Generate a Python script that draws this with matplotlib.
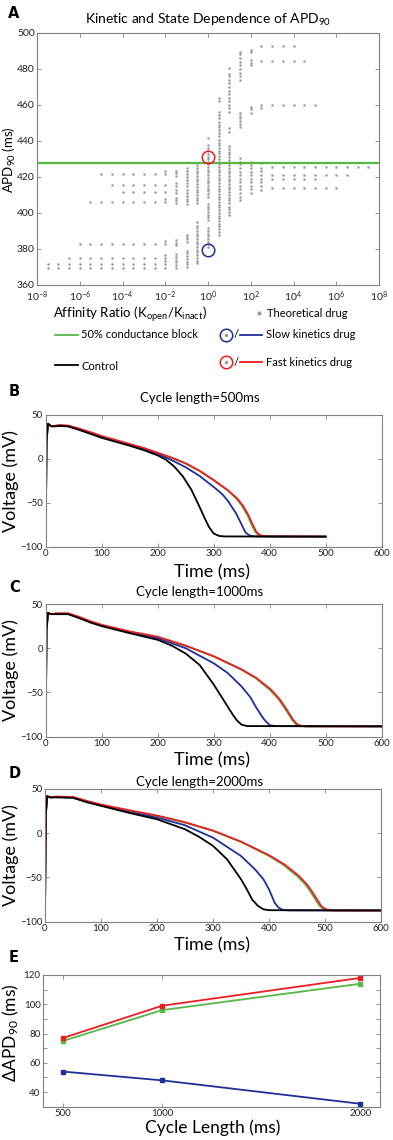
import numpy as np
import matplotlib
matplotlib.use("Agg")
import matplotlib.pyplot as plt
from matplotlib.lines import Line2D

plt.rcParams['font.family'] = ['Lato', 'DejaVu Sans']
plt.rcParams['mathtext.fontset'] = 'custom'
plt.rcParams['mathtext.rm'] = 'Lato'
plt.rcParams['mathtext.it'] = 'Lato:italic'
plt.rcParams['mathtext.default'] = 'regular'

GREEN = '#55b845'
BLUE = '#1f2f9a'
RED = '#ee1d23'
BLACK = '#000000'
GRAY = '#9a9a9a'
SPINE = '#808080'

# ---------------- Panel A data: columns of theoretical drugs ----------------
A_LOG_RATIO = [-7.5, -7, -6.5, -6, -5.5, -5, -4.5, -4, -3.5, -3, -2.5, -2, -1.5, -1, -0.5,
               0, 0.5, 1, 1.5, 2, 2.5, 3, 3.5, 4, 4.5, 5, 5.5, 6, 6.5, 7, 7.5]
A_APD = [
    [369.6, 371.7],
    [369.6, 371.7],
    [369.6, 371.7, 374.8],
    [369.6, 371.7, 374.8, 382.6],
    [369.6, 371.7, 374.8, 382.6, 406.3],
    [369.6, 371.7, 374.8, 382.6, 406.3, 421.7],
    [369.6, 371.7, 374.8, 382.6, 406.3, 415.6, 421.7],
    [369.6, 371.7, 374.8, 382.6, 406.3, 411.5, 415.6, 421.7],
    [369.6, 371.7, 374.8, 382.6, 406.3, 411.5, 415.6, 421.7],
    [369.6, 371.7, 374.8, 382.6, 406.3, 411.5, 415.6, 421.7],
    [369.6, 371.7, 374.8, 382.6, 406.3, 411.5, 415.6, 421.7],
    [369.6, 371.7, 373.2, 374.8, 376.4, 382.6, 384.4, 406.3, 407.6, 411.5, 415.6, 421.7, 423.1],
    [369.5, 371.0, 372.6, 374.1, 375.5, 377.0, 382.1, 383.6, 385.1, 405.7, 407.0, 408.3,
     411.0, 412.5, 415.0, 416.5, 420.5, 422.0, 423.5],
    [370.0, 371.6, 373.0, 374.5, 376.1, 377.5, 379.0, 384.0, 385.3, 386.6, 387.8,
     405.0, 406.6, 408.0, 409.6, 411.0, 412.6, 415.0, 416.5, 418.1, 420.0, 421.5, 423.1, 425.0],
    [372.0, 373.6, 375.1, 376.5, 378.1, 379.6, 381.0, 382.5, 384.1, 385.6, 387.0, 388.5,
     390.1, 391.5, 393.0, 395.2, 405.4, 407.0, 408.6, 410.1, 411.5, 413.0, 414.6, 416.0,
     417.6, 419.1, 420.5, 422.0, 423.6, 425.1, 426.7],
    [381.0, 382.6, 384.0, 385.5, 387.1, 388.6, 390.0, 391.6, 396.1, 397.5, 399.0, 400.6,
     402.0, 403.6, 405.1, 409.0, 410.6, 412.0, 413.5, 415.1, 416.6, 418.0, 419.5, 421.1,
     422.6, 424.0, 425.6, 427.1, 428.5, 430.0, 431.3, 433.0, 434.6, 436.1, 437.5, 441.6],
    [388.0, 389.6, 391.1, 392.5, 394.0, 395.6, 397.1, 398.5, 400.0, 401.6, 403.1, 404.5,
     406.0, 407.6, 409.0, 410.5, 412.1, 413.6, 415.0, 416.5, 418.1, 419.5, 421.0, 422.6,
     424.0, 425.5, 427.1, 428.6, 430.0, 431.5, 433.1, 434.5, 436.0, 437.6, 439.0, 440.5,
     443.0, 444.6, 446.0, 447.5, 449.1, 450.5, 453.0, 454.6, 456.0, 462.0, 463.7],
    [399.0, 400.6, 402.0, 403.5, 405.5, 407.0, 408.6, 410.0, 411.5, 413.1, 414.5, 416.0,
     417.6, 419.0, 420.5, 422.1, 423.5, 425.0, 426.6, 428.0, 429.5, 431.1, 432.5, 434.0,
     435.6, 437.0, 445.0, 447.0, 456.0, 458.1, 460.0, 462.1, 464.0, 466.1, 468.0, 470.1,
     472.0, 474.1, 476.0, 477.2, 480.5],
    [407.0, 409.1, 411.0, 413.1, 415.0, 417.1, 419.0, 421.1, 423.0, 425.1, 427.0, 428.6,
     430.4, 448.0, 449.6, 451.0, 452.6, 454.0, 455.5, 474.0, 476.1, 478.0, 480.1, 482.0,
     484.1, 486.0, 488.1, 489.6],
    [411.0, 413.1, 415.0, 417.1, 419.0, 421.1, 423.0, 425.1, 426.6, 428.5, 455.4, 457.5,
     459.0, 482.0, 483.6, 485.0, 489.4, 490.5],
    [413.0, 415.1, 417.0, 419.1, 421.0, 423.1, 425.0, 427.6, 458.6, 460.0, 484.6, 492.8],
    [413.7, 418.7, 421.1, 425.7, 460.0, 484.6, 492.8],
    [413.7, 418.7, 421.1, 425.7, 460.0, 484.6, 492.8],
    [413.7, 418.7, 421.1, 425.7, 460.0, 484.6, 492.8],
    [413.7, 418.7, 421.1, 425.7, 460.0, 484.6],
    [413.7, 418.7, 421.1, 425.7, 460.0],
    [413.7, 421.1, 425.7],
    [413.7, 421.1, 425.7],
    [421.1, 425.7],
    [425.7],
    [425.7],
]
A_BLOCK_APD = 428.0
A_SLOW = (0.0, 379.4)
A_FAST = (0.0, 431.3)
A_XTICK_EXP = [-8, -6, -4, -2, 0, 2, 4, 6, 8]
A_YTICKS = [360, 380, 400, 420, 440, 460, 480, 500]

# ---------------- Panels B-D: action potentials ----------------
B_CTRL_T = [0, 1.5, 4, 7, 10, 15, 25, 40, 60, 80, 100, 125, 150, 175, 200, 215, 230, 245, 260,
            275, 285, 292, 300, 310, 320, 500]
B_CTRL_V = [-88, 20, 40, 38.5, 37, 37, 37.5, 37, 33, 28.5, 24, 19.5, 15, 10, 4, -1, -9, -20, -35,
            -55, -69, -78, -85, -87.8, -88.3, -88.5]
B_SLOW_T = [0, 1.5, 4, 7, 10, 15, 25, 40, 60, 80, 100, 125, 150, 175, 200, 225, 250, 275, 300,
            315, 325, 340, 350, 357, 365, 375, 500]
B_SLOW_V = [-88, 20, 40, 38.5, 37.5, 37.5, 38, 37.5, 33.5, 29.5, 25, 20.5, 16, 11.5, 6, -1.5, -9.5,
            -19.5, -32, -40, -47.5, -62, -75, -84, -87.5, -88.3, -88.5]
B_BLOCK_T = [0, 1.5, 4, 7, 10, 15, 25, 40, 60, 80, 100, 125, 150, 175, 200, 225, 250, 275, 300,
             325, 340, 350, 360, 367, 374, 380, 390, 500]
B_BLOCK_V = [-88, 20, 40, 38.5, 37.5, 37.5, 38, 37.5, 34, 30, 25.5, 21, 16.5, 12, 6.5, 1, -5.5, -14,
             -24.5, -36, -45, -53, -64, -74, -83, -87, -88.2, -88.5]
B_FAST_T = [0, 1.5, 4, 7, 10, 15, 25, 40, 60, 80, 100, 125, 150, 175, 200, 225, 250, 275, 300,
            325, 342, 352, 362, 369, 376, 383, 393, 500]
B_FAST_V = [-88, 20, 40, 38.5, 37.5, 37.5, 38.5, 38, 34.5, 30.5, 26, 21.5, 17, 12.5, 7, 1.5, -5,
            -13.5, -24, -35.5, -45, -53, -64, -74, -83, -87, -88.2, -88.5]

C_CTRL_T = [0, 1.5, 4, 7, 10, 20, 40, 60, 80, 100, 150, 200, 225, 250, 275, 300, 315, 325, 335,
            342, 350, 360, 600]
C_CTRL_V = [-88, 20, 40, 39, 38.5, 38.5, 38.5, 34, 29, 25, 17, 9.5, 3, -6, -19, -41, -56, -66,
            -76, -82, -86.5, -88, -88.3]
C_SLOW_T = [0, 1.5, 4, 7, 10, 20, 40, 60, 80, 100, 150, 200, 250, 300, 325, 350, 365, 375, 385,
            392, 400, 410, 600]
C_SLOW_V = [-88, 20, 40, 39, 38.5, 39, 39, 34.5, 29.5, 25.5, 18, 11.3, 0, -17, -28, -43.4, -55,
            -66, -76, -82, -87, -88, -88.3]
C_BLOCK_T = [0, 1.5, 4, 7, 10, 20, 40, 60, 80, 100, 150, 200, 250, 300, 350, 375, 400, 415, 425,
             433, 440, 447, 455, 465, 600]
C_BLOCK_V = [-88, 20, 40, 39, 38.5, 39, 39, 35, 30, 26, 18.5, 12.5, 2.6, -9.4, -24.5, -34, -47,
             -57, -66, -74, -81, -86, -88, -88.3, -88.3]
C_FAST_T = [0, 1.5, 4, 7, 10, 20, 40, 60, 80, 100, 150, 200, 250, 300, 350, 376, 402, 417, 427,
            435, 442, 449, 457, 467, 600]
C_FAST_V = [-88, 20, 40, 39, 38.5, 39.5, 39.5, 35.5, 30.5, 26.5, 19, 13, 3, -9, -24, -33.5, -46.5,
            -57, -66, -74, -81, -86, -88, -88.3, -88.3]

D_CTRL_T = [0, 1.5, 4, 7, 10, 20, 50, 75, 100, 150, 200, 250, 275, 300, 325, 350, 360, 370, 380,
            390, 400, 600]
D_CTRL_V = [-87, 22, 42, 41, 40.5, 40.5, 40, 35, 31, 23, 15.8, 4.5, -4, -14.3, -29.4, -52, -63,
            -75, -82, -86, -87, -87.3]
D_SLOW_T = [0, 1.5, 4, 7, 10, 20, 50, 75, 100, 150, 200, 250, 300, 350, 375, 390, 400, 410, 417,
            425, 435, 600]
D_SLOW_V = [-87, 22, 42, 41, 40.5, 41, 40.5, 35.5, 31.5, 24, 17.7, 9, -5, -25.7, -40.8, -52, -63.4,
            -78.5, -84, -86.8, -87.2, -87.3]
D_BLOCK_T = [0, 1.5, 4, 7, 10, 20, 50, 75, 100, 150, 200, 250, 300, 350, 400, 425, 450, 465, 475,
             483, 490, 497, 505, 515, 600]
D_BLOCK_V = [-87, 22, 42, 41, 40.5, 41, 40.5, 36, 32, 25.5, 19.6, 12, 2.6, -9.8, -25.7, -35.5,
             -48.3, -58, -67, -75, -82, -85.5, -87, -87.3, -87.3]
D_FAST_T = [0, 1.5, 4, 7, 10, 20, 50, 75, 100, 150, 200, 250, 300, 350, 402, 428, 453, 468, 478,
            486, 493, 500, 508, 518, 600]
D_FAST_V = [-87, 22, 42, 41, 40.5, 41.5, 41, 36.5, 32.5, 26, 20, 12.5, 3, -9.5, -25.5, -35.5,
            -48, -58, -67, -75, -82, -85.5, -87, -87.3, -87.3]

AP_TITLES = ['Cycle length=500ms', 'Cycle length=1000ms', 'Cycle length=2000ms']
AP_XTICKS = [0, 100, 200, 300, 400, 500, 600]
AP_YTICKS = [-100, -50, 0, 50]

# ---------------- Panel E ----------------
E_CYCLE = [500, 1000, 2000]
E_FAST = [77, 99, 118]
E_BLOCK = [75, 96, 114]
E_SLOW = [54, 48, 32]
E_XTICKS = [500, 1000, 2000]
E_YTICKS = [30, 40, 50, 60, 70, 80, 90, 100, 110, 120]

W, H = 393, 1140
fig = plt.figure(figsize=(W / 100, H / 100), dpi=100)


def rect(l, t, r, b):
    return [l / W, 1 - b / H, (r - l) / W, (b - t) / H]


def fx(x):
    return x / W


def fy(y):
    return 1 - y / H


def style(ax, size, xpad=2, ypad=2):
    for s in ax.spines.values():
        s.set_color(SPINE)
        s.set_linewidth(0.8)
    ax.tick_params(direction='in', length=3, width=0.6, color=SPINE, top=True, right=True,
                   labelsize=size, labelcolor='#222222')
    ax.tick_params(axis='x', pad=xpad)
    ax.tick_params(axis='y', pad=ypad)


# ---------- A ----------
axA = fig.add_axes(rect(37, 33, 379, 285))
for d, vals in zip(A_LOG_RATIO, A_APD):
    axA.scatter(np.full(len(vals), 10.0 ** d), vals, s=3.2, color=GRAY, linewidths=0, zorder=2)
axA.axhline(A_BLOCK_APD, color=GREEN, lw=1.6, zorder=3)
axA.plot([10 ** A_SLOW[0]], [A_SLOW[1]], 'o', ms=9, mfc='none', mec=BLUE, mew=1.1, zorder=4)
axA.plot([10 ** A_FAST[0]], [A_FAST[1]], 'o', ms=9, mfc='none', mec=RED, mew=1.1, zorder=4)
axA.set_xscale('log')
axA.set_xlim(1e-8, 1e8)
axA.set_ylim(360, 500)
axA.set_xticks([10.0 ** e for e in A_XTICK_EXP])
axA.set_xticklabels(['10$^{%d}$' % e for e in A_XTICK_EXP])
axA.xaxis.set_minor_locator(matplotlib.ticker.NullLocator())
axA.set_yticks(A_YTICKS)
style(axA, 7.5, xpad=3, ypad=1.5)

fig.text(fx(8), fy(13), 'A', fontsize=10.5, fontweight='bold', family='DejaVu Sans',
         ha='left', va='center')
fig.text(fx(208), fy(20), 'Kinetic and State Dependence of APD$_{90}$', fontsize=10,
         ha='center', va='center')
fig.text(fx(130), fy(314), 'Affinity Ratio (K$_{open}$/K$_{inact}$)', fontsize=9.5,
         ha='center', va='center')
fig.text(fx(9), fy(160), 'APD$_{90}$ (ms)', fontsize=9.5, rotation=90, ha='center', va='center')

# legend-like key under A
fig.add_artist(Line2D([fx(259)], [fy(313)], marker='o', ms=2, color=GRAY, lw=0))
fig.text(fx(267), fy(313), 'Theoretical drug', fontsize=8, ha='left', va='center')
fig.add_artist(Line2D([fx(55), fx(78)], [fy(335), fy(335)], color=GREEN, lw=1.3))
fig.text(fx(81), fy(335), '50% conductance block', fontsize=8, ha='left', va='center')
fig.add_artist(Line2D([fx(55), fx(78)], [fy(365), fy(365)], color=BLACK, lw=1.3))
fig.text(fx(82), fy(366), 'Control', fontsize=8, ha='left', va='center')
for yy, col, lab in [(335, BLUE, 'Slow kinetics drug'), (362, RED, 'Fast kinetics drug')]:
    fig.add_artist(Line2D([fx(226)], [fy(yy)], marker='o', ms=9, mfc='none', mec=col, mew=1.1, lw=0))
    fig.add_artist(Line2D([fx(226)], [fy(yy)], marker='o', ms=1.5, color=GRAY, lw=0))
    fig.text(fx(236), fy(yy), '/', fontsize=8, ha='center', va='center')
    fig.add_artist(Line2D([fx(240), fx(262)], [fy(yy), fy(yy)], color=col, lw=1.3))
    fig.text(fx(266), fy(yy), lab, fontsize=8, ha='left', va='center')

# ---------- B, C, D ----------
ap_sets = [
    ((B_BLOCK_T, B_BLOCK_V), (B_SLOW_T, B_SLOW_V), (B_FAST_T, B_FAST_V), (B_CTRL_T, B_CTRL_V)),
    ((C_BLOCK_T, C_BLOCK_V), (C_SLOW_T, C_SLOW_V), (C_FAST_T, C_FAST_V), (C_CTRL_T, C_CTRL_V)),
    ((D_BLOCK_T, D_BLOCK_V), (D_SLOW_T, D_SLOW_V), (D_FAST_T, D_FAST_V), (D_CTRL_T, D_CTRL_V)),
]
ap_rects = [(45.7, 415, 381.7, 546.7), (45.7, 604, 381.7, 736.7), (45, 789, 381, 921.7)]
letters = [('B', 392, 398, 572), ('C', 587, 592, 760), ('D', 773, 782, 945)]
for sets, rc, (let, ly, ty, xy), title in zip(ap_sets, ap_rects, letters, AP_TITLES):
    ax = fig.add_axes(rect(*rc))
    for (t, v), col in zip(sets, [GREEN, BLUE, RED, BLACK]):
        ax.plot(t, v, color=col, lw=1.3, solid_joinstyle='round')
    ax.set_xlim(0, 600)
    ax.set_ylim(-100, 50)
    ax.set_xticks(AP_XTICKS)
    ax.set_yticks(AP_YTICKS)
    style(ax, 7)
    fig.text(fx(9), fy(ly), let, fontsize=10.5, fontweight='bold', family='DejaVu Sans',
             ha='left', va='center')
    fig.text(fx(200), fy(ty), title, fontsize=9.5, ha='center', va='center')
    fig.text(fx(212), fy(xy), 'Time (ms)', fontsize=13, ha='center', va='center')
    fig.text(fx(11), fy((rc[1] + rc[3]) / 2), 'Voltage (mV)', fontsize=13, rotation=90,
             ha='center', va='center')

# ---------- E ----------
axE = fig.add_axes(rect(43.3, 975, 380, 1106.7))
axE.plot(E_CYCLE, E_BLOCK, '-s', color=GREEN, lw=1.3, ms=2.5)
axE.plot(E_CYCLE, E_FAST, '-s', color=RED, lw=1.3, ms=2.5)
axE.plot(E_CYCLE, E_SLOW, '-s', color=BLUE, lw=1.3, ms=2.5)
axE.set_xlim(400, 2100)
axE.set_ylim(30, 120)
axE.set_xticks(E_XTICKS)
axE.set_yticks(E_YTICKS)
axE.set_yticklabels(['' if v % 20 else str(v) for v in E_YTICKS])
style(axE, 7)
fig.text(fx(9), fy(957), 'E', fontsize=10.5, fontweight='bold', family='DejaVu Sans',
         ha='left', va='center')
fig.text(fx(213), fy(1128), 'Cycle Length (ms)', fontsize=12.5, ha='center', va='center')
fig.text(fx(11), fy(1033), '$\\Delta$APD$_{90}$ (ms)', fontsize=12.5, rotation=90,
         ha='center', va='center')

fig.savefig('out.png', dpi=100)
